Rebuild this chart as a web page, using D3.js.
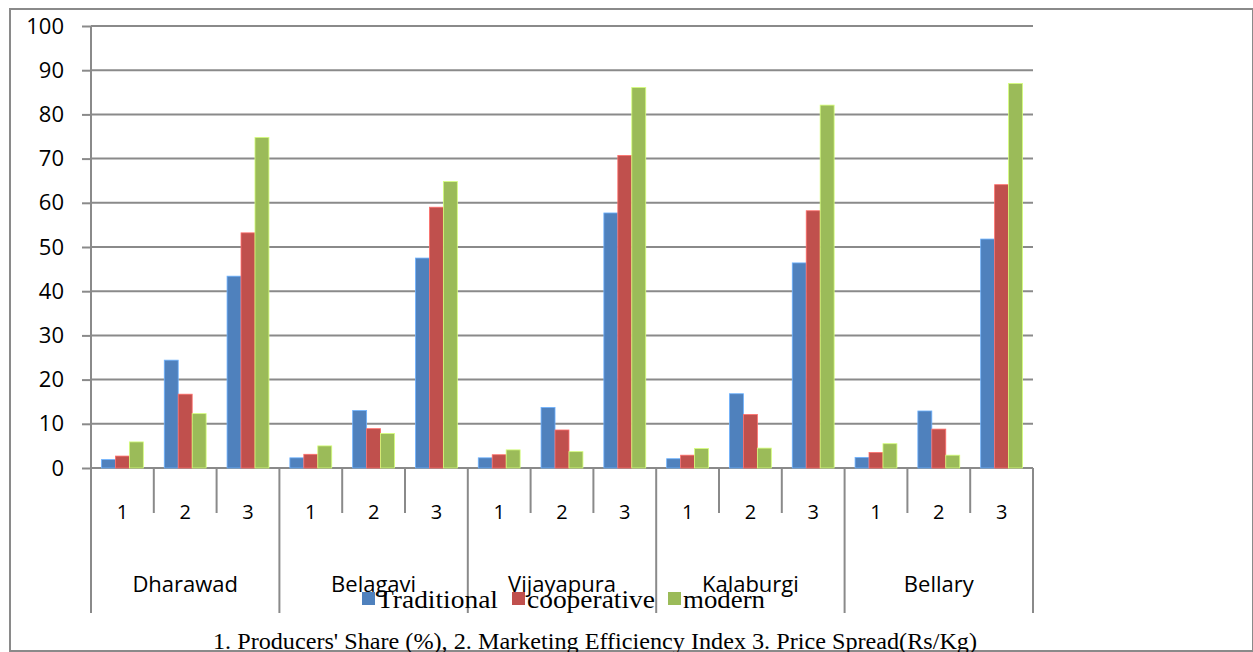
<!DOCTYPE html>
<html>
<head>
<meta charset="utf-8">
<script src="https://cdn.jsdelivr.net/npm/d3@7"></script>
<style>
  html, body { margin: 0; padding: 0; background: #fff; }
  svg { display: block; }
</style>
</head>
<body>
<svg id="chart" width="1253" height="652"></svg>
<script>
// Districts and the three indicators shown for each one
const districts = ["Dharawad", "Belagavi", "Vijayapura", "Kalaburgi", "Bellary"];
const indicators = ["1", "2", "3"];
const seriesNames = ["Traditional", "cooperative", "modern"];
const seriesColors = ["#4F81BD", "#C0504D", "#9BBB59"];

// Values per district, in indicator order (1, 2, 3)
const traditional = [
  [1.9, 24.4, 43.4],
  [2.3, 13.0, 47.5],
  [2.3, 13.7, 57.7],
  [2.1, 16.8, 46.4],
  [2.4, 12.9, 51.8]
];
const cooperative = [
  [2.7, 16.7, 53.2],
  [3.1, 8.9, 59.0],
  [3.0, 8.6, 70.7],
  [2.9, 12.1, 58.2],
  [3.5, 8.8, 64.1]
];
const modern = [
  [5.9, 12.3, 74.8],
  [5.0, 7.8, 64.8],
  [4.1, 3.7, 86.1],
  [4.4, 4.5, 82.1],
  [5.5, 2.9, 87.0]
];
const yTicks = [0, 10, 20, 30, 40, 50, 60, 70, 80, 90, 100];
const caption = "1. Producers' Share (%),  2. Marketing Efficiency Index 3. Price Spread(Rs/Kg)";

const series = [traditional, cooperative, modern];

const svg = d3.select("#chart");
const W = 1253, H = 652;
const plotLeft = 91, plotRight = 1033, plotTop = 26, plotBottom = 468;
const axisGrey = "#8a8a8a";
const sans = "'Open Sans', sans-serif";
const serif = "'Liberation Serif', 'Times New Roman', serif";

// outer frame
svg.append("rect").attr("x", 10).attr("y", 9).attr("width", W - 10).attr("height", 642)
  .attr("fill", "none").attr("stroke", axisGrey).attr("stroke-width", 2);

// category slots: one per (district, indicator)
const slots = [];
districts.forEach(d => indicators.forEach(i => slots.push(d + "|" + i)));

const x = d3.scaleBand().domain(slots).range([plotLeft, plotRight]).paddingInner(0).paddingOuter(0);
const y = d3.scaleLinear().domain([0, 100]).range([plotBottom, plotTop]);

// y axis labels and tick marks
const yAxis = d3.axisLeft(y).tickValues(yTicks).tickSize(9).tickPadding(18).tickFormat(d3.format("d"));
const gY = svg.append("g").attr("transform", `translate(${plotLeft},0)`).call(yAxis);
gY.select(".domain").remove();
gY.selectAll(".tick line").attr("stroke", axisGrey).attr("stroke-width", 2);
gY.selectAll(".tick text").attr("font-family", sans).attr("font-size", 22).attr("fill", "#000");

// horizontal gridlines
svg.append("g").selectAll("line").data(yTicks).join("line")
  .attr("x1", plotLeft).attr("x2", plotRight)
  .attr("y1", d => y(d)).attr("y2", d => y(d))
  .attr("stroke", axisGrey).attr("stroke-width", 2);

// bars: three per slot, gap of 1.5 bar widths shared on both sides
const bw = x.bandwidth() / 4.5;
const bars = svg.append("g");
districts.forEach((d, di) => {
  indicators.forEach((ind, ii) => {
    const x0 = x(d + "|" + ind) + bw * 0.75;
    seriesNames.forEach((s, si) => {
      const v = series[si][di][ii];
      bars.append("rect")
        .attr("x", x0 + si * bw)
        .attr("y", y(v))
        .attr("width", bw)
        .attr("height", y(0) - y(v))
        .attr("fill", seriesColors[si])
        .attr("stroke", d3.color(seriesColors[si]).brighter(0.9))
        .attr("stroke-width", 0.8);
    });
  });
});

// vertical axis line
svg.append("line").attr("x1", plotLeft).attr("x2", plotLeft).attr("y1", plotTop).attr("y2", 613)
  .attr("stroke", axisGrey).attr("stroke-width", 2);

// category axis ticks: short between indicators, long between districts
const boundaries = d3.range(slots.length + 1).map(k => plotLeft + k * x.bandwidth());
svg.append("g").selectAll("line").data(boundaries).join("line")
  .attr("x1", d => d).attr("x2", d => d)
  .attr("y1", plotBottom)
  .attr("y2", (d, k) => (k % 3 === 0) ? 613 : 513)
  .attr("stroke", axisGrey).attr("stroke-width", 2);

// indicator labels
svg.append("g").selectAll("text").data(slots).join("text")
  .attr("x", d => x(d) + x.bandwidth() / 2)
  .attr("y", 519)
  .attr("text-anchor", "middle")
  .attr("font-family", sans).attr("font-size", 20)
  .text(d => d.split("|")[1]);

// district labels
svg.append("g").selectAll("text").data(districts).join("text")
  .attr("x", d => x(d + "|2") + x.bandwidth() / 2)
  .attr("y", 592)
  .attr("text-anchor", "middle")
  .attr("font-family", sans).attr("font-size", 22)
  .text(d => d);

// legend
const legendItems = [
  { name: seriesNames[0], color: seriesColors[0], x: 362, w: 121 },
  { name: seriesNames[1], color: seriesColors[1], x: 512, w: 128 },
  { name: seriesNames[2], color: seriesColors[2], x: 668, w: 82 }
];
const lg = svg.append("g");
legendItems.forEach(it => {
  lg.append("rect").attr("x", it.x).attr("y", 592).attr("width", 13).attr("height", 13).attr("fill", it.color);
  lg.append("text").attr("x", it.x + 15).attr("y", 608)
    .attr("font-family", serif).attr("font-size", 25)
    .attr("textLength", it.w).attr("lengthAdjust", "spacingAndGlyphs")
    .text(it.name);
});

// caption
svg.append("text").attr("x", 213).attr("y", 649)
  .attr("font-family", serif).attr("font-size", 23)
  .attr("textLength", 764).attr("lengthAdjust", "spacingAndGlyphs")
  .text(caption);
</script>
</body>
</html>
